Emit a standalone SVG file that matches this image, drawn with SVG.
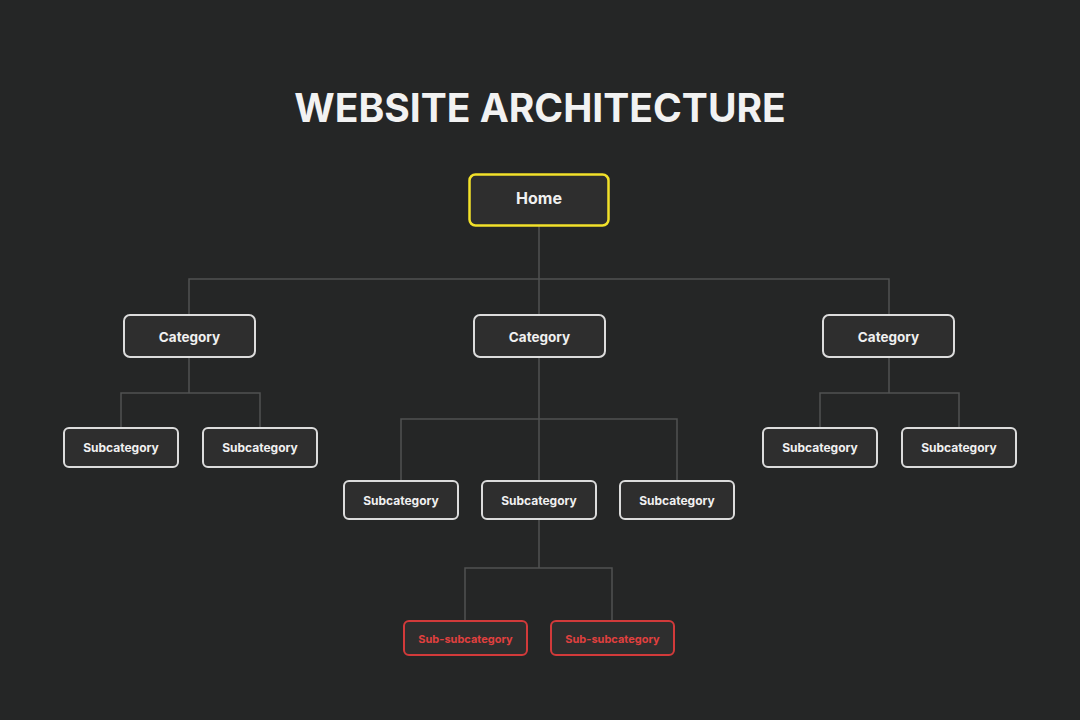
<svg xmlns="http://www.w3.org/2000/svg" width="1080" height="720" viewBox="0 0 1080 720">
<style>
.bg{fill:#252626}
.box{fill:#2e2e2e;stroke:#dcdcdc;stroke-width:2}
.home{fill:#2e2e2e;stroke:#f2e12a;stroke-width:2.5}
.red{fill:#2e2e2e;stroke:#d23a3a;stroke-width:2}
.lbl{font-family:Inter,"Liberation Sans",sans-serif;font-weight:700;fill:#f0f0f0;text-anchor:middle}
.rlbl{font-family:Inter,"Liberation Sans",sans-serif;font-weight:700;fill:#e0403f;text-anchor:middle}
.title{font-family:Inter,"Liberation Sans",sans-serif;font-weight:700;fill:#f2f2f2;text-anchor:middle;font-size:39px}
.con{fill:none;stroke:#505252;stroke-width:1.5}
</style>
<rect class="bg" x="0" y="0" width="1080" height="720"/>
<text class="title" x="540" y="122">WEBSITE ARCHITECTURE</text>
<g id="connectors">
<path class="con" d="M539 226V314M189 314V279H889V314"/>
<path class="con" d="M189 357V393M121 428V393H260V428"/>
<path class="con" d="M889 357V393M820 428V393H959V428"/>
<path class="con" d="M539 357V481M401 481V419H677V481"/>
<path class="con" d="M539 519V568M465 621V568H612V621"/>
</g>
<g id="home"><rect class="home" x="469.5" y="174.5" width="139" height="51" rx="6"/><text class="lbl" x="539" y="204" font-size="16">Home</text></g>
<g id="cat1"><rect class="box" x="124" y="315" width="131" height="42" rx="6"/><text class="lbl" x="189.5" y="342" font-size="13.5">Category</text></g>
<g id="cat2"><rect class="box" x="474" y="315" width="131" height="42" rx="6"/><text class="lbl" x="539.5" y="342" font-size="13.5">Category</text></g>
<g id="cat3"><rect class="box" x="823" y="315" width="131" height="42" rx="6"/><text class="lbl" x="888.5" y="342" font-size="13.5">Category</text></g>
<g id="sub1"><rect class="box" x="64" y="428" width="114" height="39" rx="5"/><text class="lbl" x="121" y="452" font-size="12">Subcategory</text></g>
<g id="sub2"><rect class="box" x="203" y="428" width="114" height="39" rx="5"/><text class="lbl" x="260" y="452" font-size="12">Subcategory</text></g>
<g id="sub3"><rect class="box" x="763" y="428" width="114" height="39" rx="5"/><text class="lbl" x="820" y="452" font-size="12">Subcategory</text></g>
<g id="sub4"><rect class="box" x="902" y="428" width="114" height="39" rx="5"/><text class="lbl" x="959" y="452" font-size="12">Subcategory</text></g>
<g id="sub5"><rect class="box" x="344" y="481" width="114" height="38" rx="5"/><text class="lbl" x="401" y="505" font-size="12">Subcategory</text></g>
<g id="sub6"><rect class="box" x="482" y="481" width="114" height="38" rx="5"/><text class="lbl" x="539" y="505" font-size="12">Subcategory</text></g>
<g id="sub7"><rect class="box" x="620" y="481" width="114" height="38" rx="5"/><text class="lbl" x="677" y="505" font-size="12">Subcategory</text></g>
<g id="subsub1"><rect class="red" x="404" y="621" width="123" height="34" rx="5"/><text class="rlbl" x="465.5" y="643" font-size="11">Sub-subcategory</text></g>
<g id="subsub2"><rect class="red" x="551" y="621" width="123" height="34" rx="5"/><text class="rlbl" x="612.5" y="643" font-size="11">Sub-subcategory</text></g>
</svg>
